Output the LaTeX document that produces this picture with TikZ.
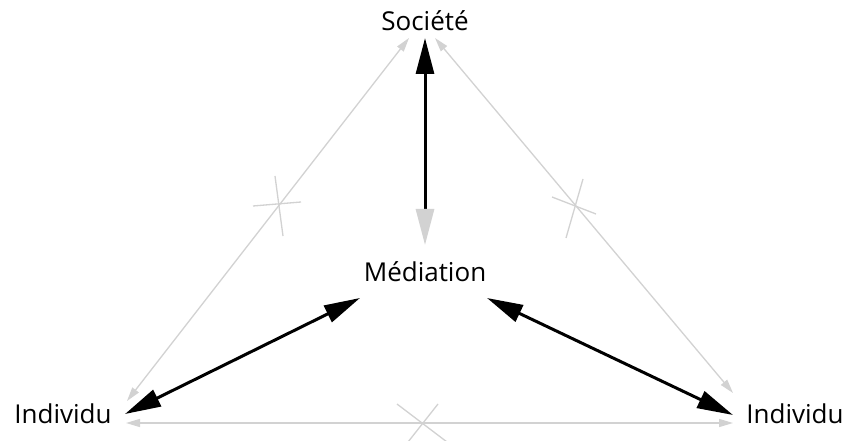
\documentclass[tikz,border=0pt]{standalone}
\usepackage{fontspec}
\setmainfont{Open Sans}
\usetikzlibrary{arrows.meta}
\definecolor{lgray}{HTML}{D2D2D2}
\begin{document}
\begin{tikzpicture}[x=1pt,y=-1pt,
  lbl/.style={font=\fontsize{26}{31}\selectfont, inner sep=0pt, anchor=base},
  link/.style={draw=black, line width=3pt},
  broken/.style={draw=lgray, line width=1.3pt, {Triangle[length=14pt,width=8pt]}-{Triangle[length=14pt,width=8pt]}},
  cross/.style={draw=lgray, line width=1.3pt},
  bigtip/.tip={Triangle[length=36pt,width=18pt]}]
\fill[white] (0,0) rectangle (855,441);
\useasboundingbox (0,0) rectangle (855,441);

\node[lbl] (soc) at (425,31) {Société};
\node[lbl] (med) at (425,281) {Médiation};
\node[lbl] (indL) at (63,423) {Individu};
\node[lbl] (indR) at (795,423) {Individu};

% broken (crossed-out) links
\draw[broken] ([shift={(-16,7)}]soc.base) -- ([shift={(64,-22)}]indL.base);
\draw[broken] ([shift={(10,7)}]soc.base) -- ([shift={(-62,-30)}]indR.base);
\draw[broken] ([shift={(63,0)}]indL.base) -- ([shift={(-62,0)}]indR.base);

% crosses
\draw[cross] (253,206) -- (301,202);
\draw[cross] (275,176) -- (283,236);
\draw[cross] (552,197) -- (596,214);
\draw[cross] (583,179) -- (566,238);
\draw[cross] (397,404) -- (447,442);
\draw[cross] (438,404) -- (408,442);

% mediated links
\draw[link, {bigtip}-{bigtip[lgray]}] ([shift={(0,7)}]soc.base) -- ([shift={(0,-36)}]med.base);
\draw[link, {bigtip}-{bigtip}] ([shift={(62,-9)}]indL.base) -- ([shift={(-65,17)}]med.base);
\draw[link, {bigtip}-{bigtip}] ([shift={(62,17)}]med.base) -- ([shift={(-62,-8)}]indR.base);
\end{tikzpicture}
\end{document}
